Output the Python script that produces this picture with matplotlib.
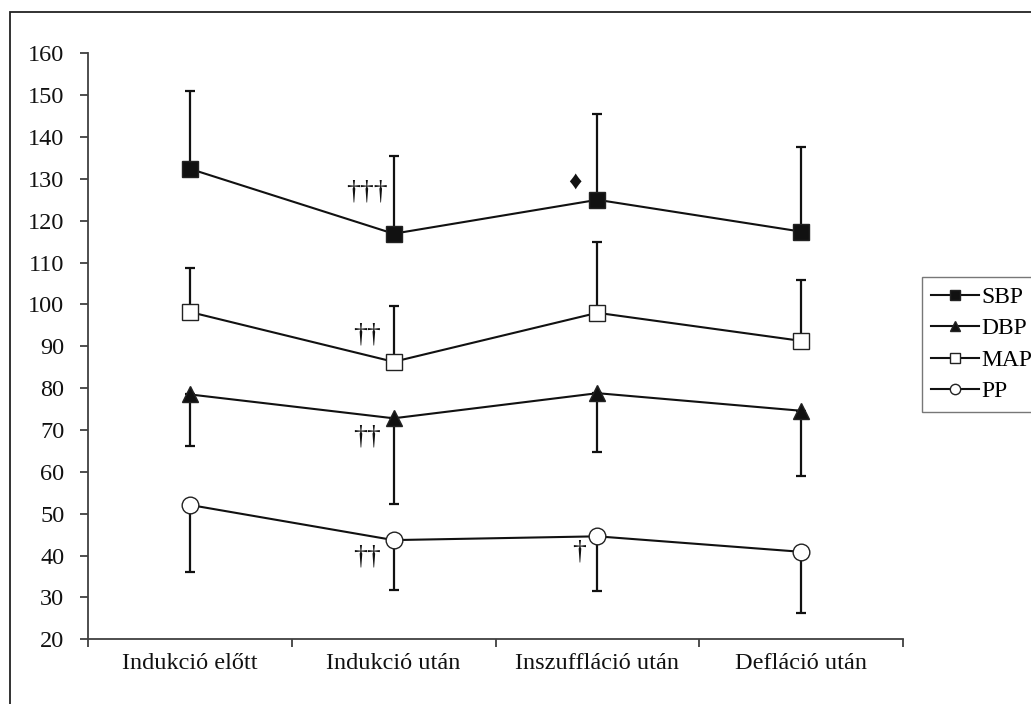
import matplotlib
matplotlib.use("Agg")
import matplotlib.pyplot as plt
from matplotlib.patches import Rectangle
import numpy as np

plt.rcParams['font.family'] = ['Liberation Serif', 'DejaVu Sans']

# Measurement time points
categories = ["Indukció előtt", "Indukció után", "Inszuffláció után", "Defláció után"]

# Means and standard deviations (mmHg)
sbp_mean = [132.4, 116.9, 125.0, 117.4]
sbp_sd = [18.7, 18.6, 20.5, 20.3]
dbp_mean = [78.5, 72.8, 78.8, 74.6]
dbp_sd = [12.2, 20.5, 14.1, 15.7]
map_mean = [98.2, 86.3, 98.0, 91.3]
map_sd = [10.4, 13.4, 16.8, 14.5]
pp_mean = [52.1, 43.7, 44.6, 40.9]
pp_sd = [16.1, 11.9, 13.0, 14.6]

series_names = ["SBP", "DBP", "MAP", "PP"]

# Significance markers: (text, category position, y value)
sig_text = ["†††", "♦", "††", "††", "††", "†"]
sig_x = [0.87, 1.89, 0.87, 0.87, 0.87, 1.91]
sig_y = [126.8, 129.0, 92.8, 68.4, 39.7, 40.9]
sig_size = [20, 19, 20, 20, 20, 20]

W, H = 1031, 704
fig = plt.figure(figsize=(W / 100, H / 100), dpi=100)
ax = fig.add_axes([88 / W, 1 - 639.3 / H, (903 - 88) / W, (639.3 - 53.3) / H])

x = np.arange(len(categories))
ink = "#111111"
axis_col = "#404040"

styles = {
    "SBP": dict(marker="s", mfc=ink, ms=11.5),
    "DBP": dict(marker="^", mfc=ink, ms=12),
    "MAP": dict(marker="s", mfc="white", ms=11.5),
    "PP": dict(marker="o", mfc="white", ms=12),
}
means = {"SBP": sbp_mean, "DBP": dbp_mean, "MAP": map_mean, "PP": pp_mean}
sds = {"SBP": sbp_sd, "DBP": dbp_sd, "MAP": map_sd, "PP": pp_sd}
err_up = {"SBP": True, "DBP": False, "MAP": True, "PP": False}

handles = []
for name in series_names:
    m = np.array(means[name])
    s = np.array(sds[name])
    if err_up[name]:
        yerr = [np.zeros_like(s), s]
    else:
        yerr = [s, np.zeros_like(s)]
    ax.errorbar(x, m, yerr=yerr, fmt="none", ecolor=ink, elinewidth=1.6,
                capsize=3.5, capthick=1.6, zorder=2)
    st = styles[name]
    (ln,) = ax.plot(x, m, color=ink, lw=1.5, marker=st["marker"], ms=st["ms"],
                    mfc=st["mfc"], mec="#222222", mew=1.0, zorder=3, label=name)
    handles.append(ln)

for t, sx, sy, fs in zip(sig_text, sig_x, sig_y, sig_size):
    ax.text(sx, sy, t, ha="center", va="center", fontsize=fs, color=ink, zorder=4)

ax.set_xlim(-0.5, len(categories) - 0.5)
ax.set_ylim(20, 160)
ax.set_yticks(np.arange(20, 161, 10))

# Category boundaries carry the tick marks; labels sit centred between them
ax.set_xticks(np.arange(-0.5, len(categories), 1.0))
ax.set_xticklabels([])
ax.set_xticks(x, minor=True)
ax.set_xticklabels(categories, minor=True)
ax.tick_params(axis="x", which="minor", length=0, pad=10, labelsize=17.5, colors=ink)
ax.tick_params(axis="x", which="major", length=6, width=1.3, color=axis_col, direction="out")
ax.tick_params(axis="y", length=6, width=1.3, color=axis_col, direction="out",
               pad=11, labelsize=17.5, labelcolor=ink)

for side in ("top", "right"):
    ax.spines[side].set_visible(False)
for side in ("left", "bottom"):
    ax.spines[side].set_color(axis_col)
    ax.spines[side].set_linewidth(1.3)

leg = fig.legend(handles=handles, loc="upper left",
                 bbox_to_anchor=(922 / W, 1 - 277 / H), frameon=True, fancybox=False,
                 fontsize=17, handlelength=2.0, handletextpad=0.1, labelspacing=0.42,
                 borderpad=0.4, markerscale=0.62, borderaxespad=0)
leg.get_frame().set_edgecolor("#555555")
leg.get_frame().set_linewidth(1.0)

# Outer frame around the chart area
fig.patches.append(Rectangle((10 / W, -0.1), 1.2, 1.1 - 12 / H, transform=fig.transFigure,
                             fill=False, edgecolor="#222222", linewidth=1.3, zorder=0))

fig.savefig("out.png", dpi=100)
